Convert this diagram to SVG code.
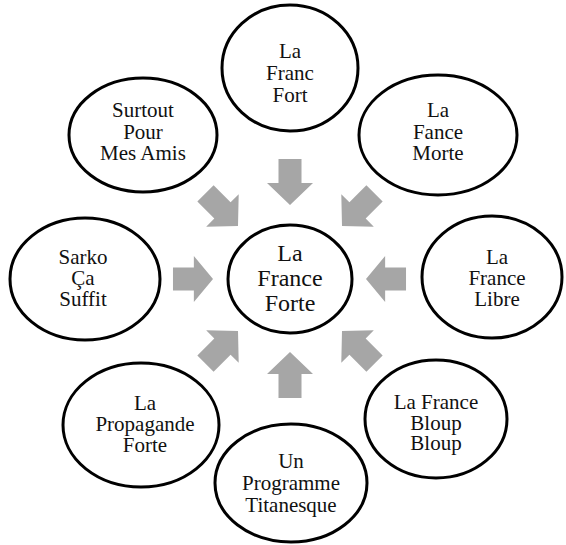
<svg xmlns="http://www.w3.org/2000/svg" width="566" height="545" viewBox="0 0 566 545" font-family="Liberation Serif, serif">
<defs>
<path id="ar" d="M-46,-11.5 H-22 V-23 L0,0 L-22,23 V11.5 H-46 Z" fill="#a6a6a6"/>
</defs>
<rect width="566" height="545" fill="#fff"/>
<g id="connectors" fill="#a6a6a6">
<use href="#ar" transform="translate(290,205) rotate(90)"/>
<use href="#ar" transform="translate(290,352) rotate(-90)"/>
<use href="#ar" transform="translate(213,279) scale(0.87,1)"/>
<use href="#ar" transform="translate(366,279) rotate(180) scale(0.87,1)"/>
<use href="#ar" transform="translate(238,226) rotate(45)"/>
<use href="#ar" transform="translate(342,226) rotate(135)"/>
<use href="#ar" transform="translate(238,331) rotate(-45)"/>
<use href="#ar" transform="translate(342,331) rotate(-135)"/>
</g>
<g id="center"><ellipse cx="290" cy="279" rx="62" ry="54" fill="#fff" stroke="#000" stroke-width="3"/>
<text x="290" y="261" style="font-family:'Liberation Serif',serif;font-size:24px" fill="#111" text-anchor="middle">La</text>
<text x="290" y="286" style="font-family:'Liberation Serif',serif;font-size:24px" fill="#111" text-anchor="middle">France</text>
<text x="290" y="311" style="font-family:'Liberation Serif',serif;font-size:24px" fill="#111" text-anchor="middle">Forte</text></g>
<g id="top"><ellipse cx="290" cy="68" rx="68" ry="63" fill="#fff" stroke="#000" stroke-width="3"/>
<text x="290" y="58" style="font-family:'Liberation Serif',serif;font-size:21px" fill="#111" text-anchor="middle">La</text>
<text x="290" y="80" style="font-family:'Liberation Serif',serif;font-size:21px" fill="#111" text-anchor="middle">Franc</text>
<text x="290" y="102" style="font-family:'Liberation Serif',serif;font-size:21px" fill="#111" text-anchor="middle">Fort</text></g>
<g id="surtout"><ellipse cx="143" cy="135" rx="74" ry="57" fill="#fff" stroke="#000" stroke-width="3"/>
<text x="143" y="117" style="font-family:'Liberation Serif',serif;font-size:21px" fill="#111" text-anchor="middle">Surtout</text>
<text x="143" y="138.5" style="font-family:'Liberation Serif',serif;font-size:21px" fill="#111" text-anchor="middle">Pour</text>
<text x="143" y="160" style="font-family:'Liberation Serif',serif;font-size:21px" fill="#111" text-anchor="middle">Mes Amis</text></g>
<g id="morte"><ellipse cx="438" cy="135" rx="79" ry="60" fill="#fff" stroke="#000" stroke-width="3"/>
<text x="438" y="117" style="font-family:'Liberation Serif',serif;font-size:21px" fill="#111" text-anchor="middle">La</text>
<text x="438" y="138.5" style="font-family:'Liberation Serif',serif;font-size:21px" fill="#111" text-anchor="middle">Fance</text>
<text x="438" y="160" style="font-family:'Liberation Serif',serif;font-size:21px" fill="#111" text-anchor="middle">Morte</text></g>
<g id="libre"><ellipse cx="492" cy="277" rx="70" ry="61" fill="#fff" stroke="#000" stroke-width="3"/>
<text x="497" y="264" style="font-family:'Liberation Serif',serif;font-size:21px" fill="#111" text-anchor="middle">La</text>
<text x="497" y="285" style="font-family:'Liberation Serif',serif;font-size:21px" fill="#111" text-anchor="middle">France</text>
<text x="497" y="306" style="font-family:'Liberation Serif',serif;font-size:21px" fill="#111" text-anchor="middle">Libre</text></g>
<g id="sarko"><ellipse cx="85" cy="279" rx="75" ry="61" fill="#fff" stroke="#000" stroke-width="3"/>
<text x="83" y="264" style="font-family:'Liberation Serif',serif;font-size:21px" fill="#111" text-anchor="middle">Sarko</text>
<text x="83" y="285" style="font-family:'Liberation Serif',serif;font-size:21px" fill="#111" text-anchor="middle">Ça</text>
<text x="83" y="306" style="font-family:'Liberation Serif',serif;font-size:21px" fill="#111" text-anchor="middle">Suffit</text></g>
<g id="propagande"><ellipse cx="141" cy="425" rx="78" ry="62" fill="#fff" stroke="#000" stroke-width="3"/>
<text x="145" y="410" style="font-family:'Liberation Serif',serif;font-size:21px" fill="#111" text-anchor="middle">La</text>
<text x="145" y="431" style="font-family:'Liberation Serif',serif;font-size:21px" fill="#111" text-anchor="middle">Propagande</text>
<text x="145" y="452" style="font-family:'Liberation Serif',serif;font-size:21px" fill="#111" text-anchor="middle">Forte</text></g>
<g id="programme"><ellipse cx="291" cy="483" rx="76" ry="59" fill="#fff" stroke="#000" stroke-width="3"/>
<text x="291" y="468" style="font-family:'Liberation Serif',serif;font-size:21px" fill="#111" text-anchor="middle">Un</text>
<text x="291" y="490" style="font-family:'Liberation Serif',serif;font-size:21px" fill="#111" text-anchor="middle">Programme</text>
<text x="291" y="512" style="font-family:'Liberation Serif',serif;font-size:21px" fill="#111" text-anchor="middle">Titanesque</text></g>
<g id="bloup"><ellipse cx="436" cy="419" rx="71" ry="59" fill="#fff" stroke="#000" stroke-width="3"/>
<text x="436" y="409" style="font-family:'Liberation Serif',serif;font-size:21px" fill="#111" text-anchor="middle">La France</text>
<text x="436" y="429.5" style="font-family:'Liberation Serif',serif;font-size:21px" fill="#111" text-anchor="middle">Bloup</text>
<text x="436" y="450" style="font-family:'Liberation Serif',serif;font-size:21px" fill="#111" text-anchor="middle">Bloup</text></g>
</svg>
